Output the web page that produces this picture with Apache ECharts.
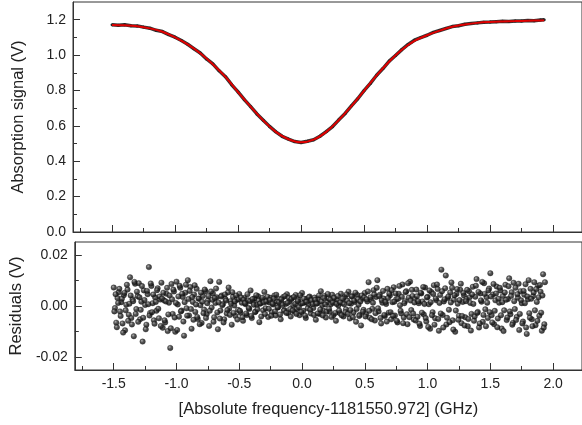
<!DOCTYPE html>
<html>
<head>
<meta charset="utf-8">
<script src="https://cdn.jsdelivr.net/npm/echarts@6/dist/echarts.min.js"></script>
<style>
html,body{margin:0;padding:0;background:#fff;}
#chart{width:582px;height:425px;}
</style>
</head>
<body>
<div id="chart"></div>
<script>
// ---- Data ----
const fitX = [-1.5,-1.4,-1.3,-1.2,-1.1,-1.0,-0.9,-0.8,-0.7,-0.6,-0.5,-0.4,-0.3,-0.2,-0.1,0.0,0.1,0.2,0.3,0.4,0.5,0.6,0.7,0.8,0.9,1.0,1.1,1.2,1.3,1.4,1.5,1.6,1.7,1.8,1.9,1.93];
const fitY = [1.170,1.168,1.163,1.151,1.132,1.100,1.060,1.010,0.948,0.877,0.791,0.709,0.631,0.566,0.524,0.507,0.522,0.566,0.633,0.712,0.798,0.885,0.964,1.030,1.080,1.112,1.138,1.160,1.173,1.182,1.187,1.190,1.192,1.194,1.196,1.197];

const dataX = [-1.50,-1.45,-1.40,-1.35,-1.30,-1.25,-1.20,-1.15,-1.10,-1.05,-1.00,-0.95,-0.90,-0.85,-0.80,-0.75,-0.70,-0.65,-0.60,-0.55,-0.50,-0.45,-0.40,-0.35,-0.30,-0.25,-0.20,-0.15,-0.10,-0.05,
  0.00,0.05,0.10,0.15,0.20,0.25,0.30,0.35,0.40,0.45,0.50,0.55,0.60,0.65,0.70,0.75,0.80,0.85,0.90,0.95,1.00,1.05,1.10,1.15,1.20,1.25,1.30,1.35,1.40,1.45,1.50,1.55,1.60,1.65,1.70,1.75,1.80,1.85,1.90,1.93];
const dataY = [1.172,1.168,1.171,1.166,1.165,1.158,1.152,1.140,1.133,1.116,1.101,1.082,1.061,1.036,1.012,0.978,0.950,0.911,0.878,0.832,0.792,0.748,0.709,0.667,0.632,0.597,0.566,0.541,0.525,0.511,
  0.506,0.513,0.521,0.541,0.567,0.596,0.634,0.670,0.713,0.753,0.799,0.840,0.886,0.924,0.966,0.998,1.031,1.060,1.084,1.099,1.112,1.128,1.139,1.150,1.161,1.166,1.174,1.178,1.182,1.186,1.187,1.189,1.191,1.190,1.193,1.192,1.195,1.194,1.198,1.199];

// residuals on the frequency scan grid: set A starts at -1.500 GHz, set B at -1.495 GHz, both 0.01 GHz apart
const residStartA = -1.500;
const residStartB = -1.495;
const residStep = 0.01;
const residA = [
 .0072,-.0008,-.0065,.0031,.0054,-.0021,.0015,-.0068,.0042,-.0095,.0005,.0064,-.0034,.0112,-.0047,.0026,-.0118,.0087,-.0012,.0038,
 .0089,-.0052,.0017,-.0139,.0061,.0004,-.0073,.0046,.0152,-.0027,.0078,.0011,-.0056,.0033,-.0019,.0069,-.0048,.0025,.0091,-.0085,
 .0022,-.0064,.0048,-.0098,.0013,-.0164,.0086,-.0031,.0057,-.0101,.0095,.0006,-.0042,.0071,-.0018,.0035,-.0116,.0052,-.0009,.0101,
 -.0037,.0074,-.0089,.0016,.0045,-.0023,.0067,-.0051,.0028,.0003,-.0066,.0039,-.0014,.0058,-.0032,.0021,-.0078,.0097,-.0006,.0049,
 -.0044,.0012,.0034,-.0091,.0094,-.0018,.0041,.0008,-.0052,.0027,-.0029,.0053,-.0011,.0019,-.0073,.0036,.0002,-.0039,.0024,-.0015,
 .0047,-.0026,.0013,-.0058,.0031,.0007,-.0035,.0022,-.0012,.0061,-.0047,.0016,.0029,-.0021,.0004,.0038,-.0063,.0011,.0025,-.0017,
 .0055,-.0009,.0021,-.0043,.0014,.0032,-.0024,.0006,.0041,-.0037,.0018,-.0005,.0027,-.0052,.0012,.0035,-.0016,.0008,.0046,-.0028,
 .0019,-.0041,.0031,.0003,-.0022,.0043,-.0012,.0024,-.0036,.0009,.0051,-.0019,.0014,-.0047,.0028,.0006,.0037,-.0029,.0016,-.0008,
 .0033,-.0054,.0011,.0026,-.0031,.0058,.0004,-.0018,.0039,-.0045,.0015,.0029,-.0022,.0007,.0044,-.0036,.0017,-.0058,.0023,.0002,
 -.0027,.0048,.0012,-.0041,.0034,-.0013,.0021,.0056,-.0049,.0009,.0038,-.0025,.0016,-.0062,.0043,.0005,-.0034,-.0076,.0028,-.0015,
 .0051,-.0032,.0018,.0093,-.0046,.0024,-.0011,.0062,-.0057,.0035,.0101,-.0021,.0044,-.0068,.0013,.0029,-.0039,.0008,.0067,-.0026,
 .0041,-.0052,.0015,.0073,-.0037,.0026,-.0064,.0048,.0003,-.0029,.0084,-.0045,.0019,.0058,-.0071,.0033,.0095,-.0016,.0039,-.0053,
 .0027,.0064,-.0042,.0011,-.0078,.0049,.0018,-.0033,.0072,-.0061,.0036,.0007,-.0089,.0055,-.0024,.0081,-.0048,.0022,.0066,-.0097,
 .0043,.0142,-.0035,.0018,.0069,-.0072,.0031,-.0015,.0053,.0092,-.0056,.0024,-.0101,.0047,.0009,-.0038,.0063,-.0067,.0016,.0041,
 -.0044,.0028,-.0079,.0058,.0012,-.0031,.0075,-.0058,.0036,.0105,-.0023,-.0084,.0049,.0017,-.0062,.0089,-.0013,.0034,-.0047,.0068,
 .0128,-.0036,.0045,-.0071,.0022,.0076,-.0049,.0013,.0061,-.0088,.0039,-.0017,.0083,-.0055,.0027,.0108,-.0032,.0054,-.0066,.0019,
 .0071,-.0043,.0032,-.0094,.0058,.0011,-.0061,.0044,.0085,-.0109,.0026,-.0028,.0067,-.0052,.0038,.0093,-.0075,.0016,.0079,-.0038,
 .0056,-.0097,.0124,-.0071
];
const residB = [
 -.0021,.0046,-.0083,.0012,.0067,-.0039,.0028,-.0104,.0051,-.0017,.0083,-.0058,.0009,.0041,-.0072,.0019,.0094,-.0031,.0056,-.0062,
 .0034,-.0015,.0078,-.0046,.0023,-.0091,.0059,.0007,-.0037,.0088,-.0024,.0045,-.0069,.0016,.0062,-.0011,.0037,-.0078,.0029,.0052,
 -.0056,.0018,.0071,-.0033,.0041,-.0087,.0026,.0064,-.0045,.0012,-.0094,.0037,.0079,-.0021,.0048,-.0061,.0015,.0083,-.0038,.0027,
 .0059,-.0012,.0035,-.0054,.0081,.0006,-.0043,.0029,-.0071,.0052,.0017,-.0028,.0064,-.0047,.0011,.0039,-.0019,.0057,.0024,-.0062,
 .0031,.0068,-.0025,.0014,-.0049,.0037,.0003,-.0064,.0045,.0021,-.0016,.0072,-.0035,.0009,.0054,-.0027,.0018,.0041,-.0053,.0026,
 -.0019,.0033,-.0044,.0024,.0011,-.0029,.0046,-.0008,.0019,-.0039,.0027,.0005,-.0024,.0042,-.0013,.0021,.0009,-.0041,.0032,.0014,
 -.0031,.0017,.0036,-.0011,.0023,-.0038,.0009,.0029,-.0021,.0044,-.0006,.0015,-.0033,.0026,.0004,-.0019,.0039,-.0027,.0012,.0031,
 -.0012,.0027,-.0018,.0035,.0008,-.0031,.0019,-.0005,.0042,-.0023,.0011,.0029,-.0038,.0016,-.0009,.0034,-.0015,.0022,.0007,-.0035,
 .0024,.0009,-.0029,.0041,-.0014,.0018,-.0037,.0031,.0006,-.0022,.0047,-.0011,.0025,-.0043,.0013,.0032,-.0027,.0008,.0039,-.0018,
 .0014,-.0036,.0029,.0007,-.0024,.0045,-.0031,.0011,-.0016,.0037,-.0044,.0021,.0052,-.0012,.0027,-.0039,.0018,.0041,-.0022,.0033,
 -.0041,.0026,.0057,-.0019,.0034,-.0052,.0013,.0045,-.0028,.0071,-.0009,.0038,-.0047,.0022,.0059,-.0035,.0016,-.0061,.0031,.0048,
 -.0024,.0062,-.0039,.0017,.0049,-.0058,.0028,.0078,-.0019,.0036,-.0067,.0011,.0054,-.0032,.0089,-.0044,.0021,.0063,-.0029,.0014,
 -.0057,.0038,.0019,-.0069,.0052,-.0026,.0074,.0008,-.0047,.0033,-.0082,.0061,.0015,-.0036,.0047,-.0073,.0029,.0084,-.0051,.0012,
 -.0029,.0058,-.0084,.0026,.0119,-.0046,.0037,-.0063,.0014,.0071,-.0092,.0042,-.0018,.0066,-.0054,.0023,.0087,-.0039,.0051,-.0076,
 .0019,.0063,-.0051,.0034,-.0096,.0045,.0008,-.0041,.0079,-.0027,.0055,-.0068,.0022,.0094,-.0035,.0047,-.0079,.0013,.0061,-.0024,
 .0037,-.0064,.0086,-.0019,.0049,-.0083,.0028,.0071,-.0036,.0015,-.0098,.0053,.0024,-.0045,.0077,-.0021,.0039,-.0073,.0091,-.0012,
 -.0055,.0046,.0087,-.0031,.0022,-.0068,.0059,.0011,-.0084,.0037,.0101,-.0046,.0028,-.0079,.0053,-.0017,.0066,-.0058,.0034,.0082,
 -.0026,.0041,-.0085,.0093
];

// tick values
const xMajor = [-1.5,-1.0,-0.5,0.0,0.5,1.0,1.5,2.0];
const xMinor = [-1.75,-1.25,-0.75,-0.25,0.25,0.75,1.25,1.75];
const yTopMajor = [0.0,0.2,0.4,0.6,0.8,1.0,1.2];
const yTopMinor = [0.1,0.3,0.5,0.7,0.9,1.1];
const yResMajor = [-0.02,0.00,0.02];
const yResMinor = [-0.01,0.01];

const X_MIN = -1.81, X_MAX = 2.23;
const AX = '#333';
const FONT = 'Liberation Sans, Arial, sans-serif';
const TICK_FS = 14;
const TITLE_FS = 16.5;

const chart = echarts.init(document.getElementById('chart'), null, {renderer:'canvas'});

function mainX(grid, showLabels, name){
  return {
    type:'value', gridIndex:grid, min:X_MIN, max:X_MAX, position:'bottom',
    axisLine:{show:true, onZero:false, lineStyle:{color:AX, width:1}},
    axisTick:{show:true, inside:true, length:7, customValues:xMajor, lineStyle:{color:AX}},
    minorTick:{show:false},
    axisLabel:{show:showLabels, customValues:xMajor, margin:7, color:'#222', fontSize:TICK_FS, fontFamily:FONT,
      formatter:v=>Number(v).toFixed(1)},
    splitLine:{show:false},
    name:name||'', nameLocation:'middle', nameGap:31,
    nameTextStyle:{color:'#222', fontSize:TITLE_FS, fontFamily:FONT}
  };
}
function minorX(grid){
  return {
    type:'value', gridIndex:grid, min:X_MIN, max:X_MAX, position:'bottom', offset:0,
    axisLine:{show:false, onZero:false},
    axisTick:{show:true, inside:true, length:4, customValues:xMinor, lineStyle:{color:AX}},
    axisLabel:{show:false}, splitLine:{show:false}
  };
}
function mainY(grid, min, max, major, digits, name){
  return {
    type:'value', gridIndex:grid, min:min, max:max, position:'left',
    axisLine:{show:true, onZero:false, lineStyle:{color:AX, width:1}},
    axisTick:{show:true, inside:true, length:7, customValues:major, lineStyle:{color:AX}},
    minorTick:{show:false},
    axisLabel:{show:true, customValues:major, margin:7, color:'#222', fontSize:TICK_FS, fontFamily:FONT,
      formatter:v=>Number(v).toFixed(digits)},
    splitLine:{show:false},
    name:name, nameLocation:'middle', nameGap:46, nameRotate:90,
    nameTextStyle:{color:'#222', fontSize:TITLE_FS, fontFamily:FONT}
  };
}
function minorY(grid, min, max, minor){
  return {
    type:'value', gridIndex:grid, min:min, max:max, position:'left', offset:0,
    axisLine:{show:false, onZero:false},
    axisTick:{show:true, inside:true, length:4, customValues:minor, lineStyle:{color:AX}},
    axisLabel:{show:false}, splitLine:{show:false}
  };
}

const ballColor = {
  type:'radial', x:0.38, y:0.35, r:0.7,
  colorStops:[{offset:0,color:'#a0a0a0'},{offset:0.4,color:'#2c2c2c'},{offset:1,color:'#050505'}]
};

function residSeries(start, vals){
  return {
    type:'scatter', xAxisIndex:1, yAxisIndex:1,
    data:vals.map((r,i)=>[start + i*residStep, r]),
    symbol:'circle', symbolSize:5.5,
    itemStyle:{color:ballColor, borderColor:'#111', borderWidth:0.4},
    z:2
  };
}

const option = {
  animation:false,
  backgroundColor:'#fff',
  grid:[
    {left:73, right:-1, top:2, height:230, show:true, borderColor:AX, borderWidth:1, backgroundColor:'transparent'},
    {left:73, right:-1, top:242, height:128, show:true, borderColor:AX, borderWidth:1, backgroundColor:'transparent'}
  ],
  xAxis:[
    mainX(0,false),
    mainX(1,true,'[Absolute frequency-1181550.972] (GHz)'),
    minorX(0),
    minorX(1)
  ],
  yAxis:[
    mainY(0,0,1.3,yTopMajor,1,'Absorption signal (V)'),
    mainY(1,-0.025,0.025,yResMajor,2,'Residuals (V)'),
    minorY(0,0,1.3,yTopMinor),
    minorY(1,-0.025,0.025,yResMinor)
  ],
  series:[
    {
      type:'line', xAxisIndex:0, yAxisIndex:0,
      data:dataX.map((x,i)=>[x,dataY[i]]),
      showSymbol:true, symbol:'circle', symbolSize:3,
      itemStyle:{color:'#222'},
      lineStyle:{color:'#333', width:3.5},
      z:2
    },
    {
      type:'line', xAxisIndex:0, yAxisIndex:0,
      data:fitX.map((x,i)=>[x,fitY[i]]),
      showSymbol:false, smooth:0.4,
      lineStyle:{color:'#e00000', width:2},
      z:3
    },
    residSeries(residStartA, residA),
    residSeries(residStartB, residB)
  ]
};
chart.setOption(option);
</script>
</body>
</html>
